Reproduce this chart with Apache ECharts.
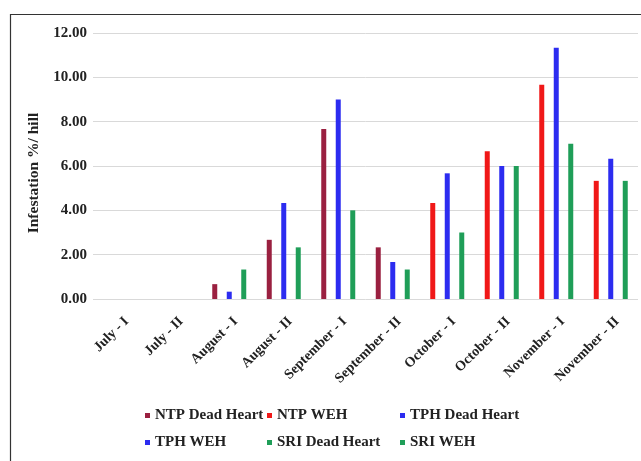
<!DOCTYPE html>
<html><head><meta charset="utf-8">
<script src="https://cdn.jsdelivr.net/npm/echarts@6/dist/echarts.min.js"></script>
<style>html,body{margin:0;padding:0;background:#fff}#c{width:641px;height:461px}</style>
</head><body><div id="c"></div>
<script>
const categories = ['July - I','July - II','August - I','August - II','September - I','September - II','October - I','October - II','November - I','November - II'];
const ntpDeadHeart = [0, 0, 0.67, 2.67, 7.67, 2.33, null, null, null, null];
const ntpWEH       = [null, null, null, null, null, null, 4.33, 6.67, 9.67, 5.33];
const tphDeadHeart = [0, 0, 0.33, 4.33, 9.00, 1.67, null, null, null, null];
const tphWEH       = [null, null, null, null, null, null, 5.67, 6.00, 11.33, 6.33];
const sriDeadHeart = [0, 0, 1.33, 2.33, 4.00, 1.33, null, null, null, null];
const sriWEH       = [null, null, null, null, null, null, 3.00, 6.00, 7.00, 5.33];
const yTicks = { min: 0, max: 12, interval: 2 };

const FONT = '"Liberation Serif", "Times New Roman", serif';
const colors = {
  'NTP Dead Heart': '#9a2040', 'NTP WEH': '#f01818',
  'TPH Dead Heart': '#2c2cf0', 'TPH WEH': '#2c2cf0',
  'SRI Dead Heart': '#1f9e58', 'SRI WEH': '#1f9e58'
};
function bar(name, data, stack) {
  return { name, type: 'bar', stack, data, barWidth: 5, barGap: '190%',
    itemStyle: { color: colors[name] }, emphasis: { disabled: true } };
}
const legendText = { fontFamily: FONT, fontWeight: 'bold', fontSize: 15, color: '#222' };
function leg(left, names) {
  return { left, top: 403, orient: 'vertical', itemGap: 12, itemWidth: 5, itemHeight: 5,
    icon: 'rect', textStyle: legendText, data: names, selectedMode: false };
}
const chart = echarts.init(document.getElementById('c'));
chart.setOption({
  animation: false,
  backgroundColor: '#fff',
  grid: { left: 93, right: 3, top: 33, bottom: 162 },
  legend: [
    leg(140, ['NTP Dead Heart', 'TPH WEH']),
    leg(262, ['NTP WEH', 'SRI Dead Heart']),
    leg(395, ['TPH Dead Heart', 'SRI WEH'])
  ],
  graphic: [{ type: 'polyline', shape: { points: [[10.5, 461], [10.5, 14.5], [641, 14.5]] },
    style: { stroke: '#333', lineWidth: 1.2, fill: null } }],
  xAxis: {
    type: 'category', data: categories,
    axisLine: { show: false }, axisTick: { show: false },
    axisLabel: { rotate: 45, interval: 0, fontFamily: FONT, fontWeight: 'bold', fontSize: 14, color: '#222',
      margin: 14, verticalAlign: 'top', padding: [2, 0, 0, 0] }
  },
  yAxis: {
    type: 'value', min: yTicks.min, max: yTicks.max, interval: yTicks.interval,
    name: 'Infestation %/ hill', nameLocation: 'middle', nameGap: 44,
    nameTextStyle: { fontFamily: FONT, fontWeight: 'bold', fontSize: 15.5, color: '#222', padding: [0, 14, 0, 0] },
    axisLabel: { formatter: v => v.toFixed(2), fontFamily: FONT, fontWeight: 'bold', fontSize: 15, color: '#222', margin: 6 },
    splitLine: { lineStyle: { color: '#d9d9d9', width: 1 } },
    axisLine: { show: false }, axisTick: { show: false }
  },
  series: [
    bar('NTP Dead Heart', ntpDeadHeart, 'NTP'),
    bar('NTP WEH', ntpWEH, 'NTP'),
    bar('TPH Dead Heart', tphDeadHeart, 'TPH'),
    bar('TPH WEH', tphWEH, 'TPH'),
    bar('SRI Dead Heart', sriDeadHeart, 'SRI'),
    bar('SRI WEH', sriWEH, 'SRI')
  ]
});
</script></body></html>
